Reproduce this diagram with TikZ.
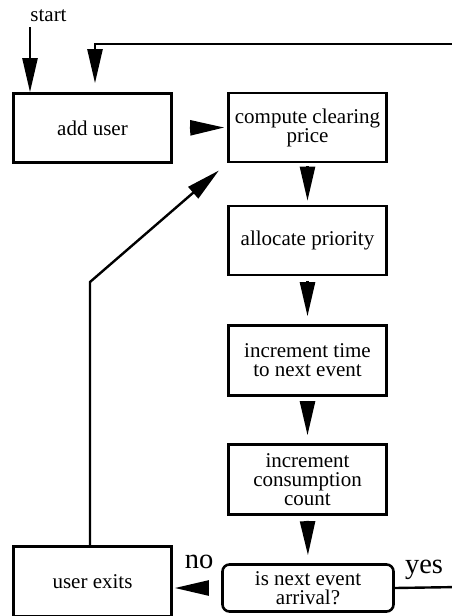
\documentclass[tikz,border=0pt]{standalone}
\usepackage{fontspec}
\setmainfont{Liberation Serif}
\usetikzlibrary{arrows.meta}
\begin{document}
\begin{tikzpicture}[x=1pt,y=-1pt,
  box/.style={draw, line width=2.6pt, minimum width=158pt, minimum height=69pt, inner sep=0pt, align=center, font=\fontsize{21}{19}\selectfont},
  decbox/.style={box, rounded corners=7pt, minimum width=171pt, minimum height=47pt},
  conn/.style={line width=2.4pt},
  tip/.style={conn, -{Triangle[length=34pt,width=15pt]}},
  lbl/.style={font=\fontsize{21}{19}\selectfont, inner sep=0pt, anchor=base},
  biglbl/.style={font=\fontsize{28.5}{28}\selectfont, inner sep=0pt, anchor=base}]
\useasboundingbox (0,0) rectangle (452,616);
\clip (0,0) rectangle (452,616);
\fill[white] (0,0) rectangle (452,616);

\node[box] (add) at (92.5,128) {add user};
\node[box] (cp) at (307.5,127.5) {compute clearing\\price};
\node[box] (alloc) at (307.5,240.5) {allocate priority};
\node[box, minimum height=70pt] (inc) at (307.5,360.5) {increment time\\ to next event};
\node[box, minimum height=70pt] (cons) at (307.5,479.5) {increment\\consumption\\count};
\node[decbox] (dec) at (308,588) {is next event\\ arrival?};
\node[box, minimum height=70pt] (exits) at (92.5,581.5) {user exits};

\node[lbl] (startlbl) at (48.5,21) {start};
\node[biglbl] (nolbl) at (199,568) {no};
\node[biglbl] (yeslbl) at (424,573) {yes};

\coordinate (s0) at (30,27);
\coordinate (r0) at (460,44);
\coordinate (r1) at (95,44);
\coordinate (y0) at (460,587);
\coordinate (e1) at (90,282);

\draw[tip] (s0) -- (s0 |- add.north);
\draw[tip, shorten >=9pt] (r0) -- (r1) -- (r1 |- add.north);
\draw[tip, shorten >=3pt, shorten <=17pt] (add.east) -- (cp.west);
\draw[tip, shorten >=4pt, shorten <=3pt] (cp.south) -- (alloc.north);
\draw[tip, shorten >=8pt, shorten <=5pt] (alloc.south) -- (inc.north);
\draw[tip, shorten >=8pt, shorten <=4pt] (inc.south) -- (cons.north);
\draw[tip, shorten >=8pt, shorten <=5pt] (cons.south) -- (dec.north);
\draw[tip, shorten >=2pt, shorten <=12pt] (dec.west) -- (dec.west -| exits.east);
\draw[conn] (dec.east) -- (y0);
\draw[tip, shorten >=11pt] (exits.north -| e1) -- (e1) -- (cp.south west);
\end{tikzpicture}
\end{document}
